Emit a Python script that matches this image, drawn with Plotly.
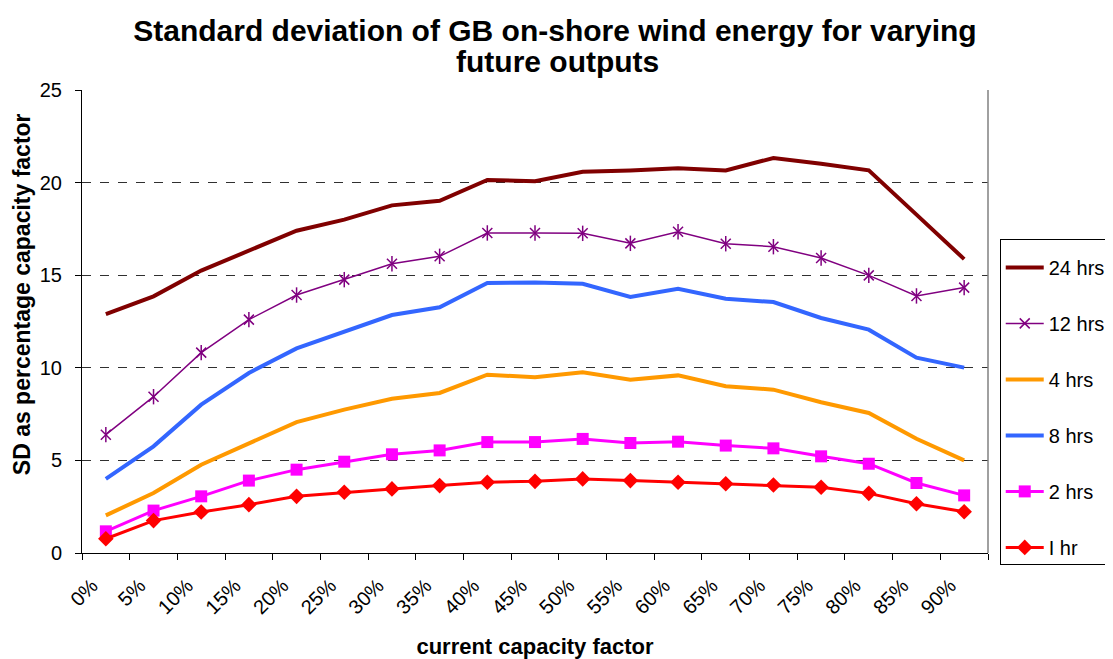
import plotly.graph_objects as go

cap_labels = ['0%', '5%', '10%', '15%', '20%', '25%', '30%', '35%', '40%', '45%',
              '50%', '55%', '60%', '65%', '70%', '75%', '80%', '85%', '90%']

sd_24hrs = [12.9, 13.86, 15.25, 16.34, 17.4, 18.0, 18.77, 19.02, 20.14, 20.07,
            20.59, 20.66, 20.77, 20.66, 21.33, 21.02, 20.66, 18.27, 15.87]
sd_12hrs = [6.39, 8.44, 10.82, 12.6, 13.93, 14.76, 15.62, 16.02, 17.28, 17.28,
            17.26, 16.72, 17.35, 16.7, 16.54, 15.93, 14.99, 13.88, 14.33]
sd_8hrs = [4.0, 5.76, 8.01, 9.72, 11.05, 11.95, 12.85, 13.27, 14.58, 14.6,
           14.54, 13.82, 14.27, 13.73, 13.55, 12.69, 12.06, 10.55, 10.01]
sd_4hrs = [2.03, 3.24, 4.77, 5.94, 7.07, 7.74, 8.33, 8.64, 9.63, 9.49,
           9.76, 9.36, 9.59, 9.0, 8.82, 8.14, 7.56, 6.17, 5.0]
sd_2hrs = [1.17, 2.29, 3.06, 3.91, 4.5, 4.93, 5.33, 5.54, 5.99, 5.99,
           6.16, 5.94, 6.01, 5.8, 5.65, 5.22, 4.82, 3.78, 3.11]
sd_1hr = [0.77, 1.75, 2.21, 2.61, 3.06, 3.28, 3.46, 3.64, 3.82, 3.87,
          4.0, 3.91, 3.82, 3.74, 3.67, 3.55, 3.22, 2.66, 2.23]

# points sit in the middle of each category slot
x_pos = [i + 0.5 for i in range(len(cap_labels))]

FONT = "Liberation Sans, Arial, sans-serif"

fig = go.Figure()

fig.add_trace(go.Scatter(x=x_pos, y=sd_24hrs, name="24 hrs", mode="lines",
                         line=dict(color="#800000", width=4), legendgroup="g0"))
fig.add_trace(go.Scatter(x=x_pos, y=sd_12hrs, name="12 hrs", mode="lines+markers",
                         line=dict(color="#800080", width=1.5), legendgroup="g1",
                         marker=dict(symbol="x-thin-open", size=10, color="#800080",
                                     line=dict(color="#800080", width=1.5))))
# vertical stroke of the excel-style star marker
fig.add_trace(go.Scatter(x=x_pos, y=sd_12hrs, name="12 hrs", mode="markers",
                         showlegend=False, legendgroup="g1", hoverinfo="skip",
                         marker=dict(symbol="line-ns-open", size=11, color="#800080",
                                     line=dict(color="#800080", width=1.5))))
fig.add_trace(go.Scatter(x=x_pos, y=sd_4hrs, name="4 hrs", mode="lines",
                         line=dict(color="#FF9900", width=4), legendgroup="g2"))
fig.add_trace(go.Scatter(x=x_pos, y=sd_8hrs, name="8 hrs", mode="lines",
                         line=dict(color="#3366FF", width=4), legendgroup="g3"))
fig.add_trace(go.Scatter(x=x_pos, y=sd_2hrs, name="2 hrs", mode="lines+markers",
                         line=dict(color="#FF00FF", width=3), legendgroup="g4",
                         marker=dict(symbol="square", size=12, color="#FF00FF")))
fig.add_trace(go.Scatter(x=x_pos, y=sd_1hr, name="I hr", mode="lines+markers",
                         line=dict(color="#FF0000", width=3), legendgroup="g5",
                         marker=dict(symbol="diamond", size=12, color="#FF0000")))

# page body has an 8px margin, so the figure is shrunk by that much
fig.update_layout(
    width=1105, height=651,
    paper_bgcolor="white", plot_bgcolor="white",
    font=dict(family=FONT, size=20, color="black"),
    margin=dict(l=74, r=125, t=82, b=106),
    title=dict(text="<b>Standard deviation of GB on-shore wind energy for varying</b>",
               x=0.495, xref="container", xanchor="center", y=0.966, yanchor="middle",
               font=dict(family=FONT, size=30, color="black")),
    legend=dict(x=0.8975, xref="container", xanchor="left",
                y=0.645, yref="container", yanchor="top",
                bordercolor="black", borderwidth=1, bgcolor="white",
                tracegroupgap=27, traceorder="grouped", itemwidth=38,
                title=dict(text=" ", font=dict(size=6)),
                font=dict(family=FONT, size=20)),
    showlegend=True,
)
fig.add_annotation(text="<b>future outputs</b>", xref="paper", yref="paper",
                   x=0.525, y=1.0605, xanchor="center", yanchor="middle", showarrow=False,
                   font=dict(family=FONT, size=30, color="black"))
# y axis title, placed by hand as it sits above the axis middle
fig.add_annotation(text="<b>SD as percentage capacity factor</b>", xref="paper", yref="paper",
                   x=-0.0662, y=0.559, xanchor="center", yanchor="middle", showarrow=False,
                   textangle=-90, font=dict(family=FONT, size=23, color="black"))

fig.update_xaxes(
    range=[0, 19], tickmode="array", tickvals=list(range(20)),
    ticktext=cap_labels + [""], tickangle=-45,
    ticklabelshift=10, ticklabelstandoff=6,
    showline=True, linecolor="black", linewidth=1,
    ticks="outside", ticklen=6, tickcolor="black",
    showgrid=False, zeroline=False, automargin=False,
    tickfont=dict(family=FONT, size=20),
    title=dict(text="<b>current capacity factor</b>", font=dict(family=FONT, size=22), standoff=22),
)
fig.update_yaxes(
    range=[0, 25], tickvals=[0, 5, 10, 15, 20, 25],
    ticklabelstandoff=9,
    showline=True, linecolor="black", linewidth=1,
    ticks="outside", ticklen=6, tickcolor="black",
    showgrid=True, gridcolor="#303030", griddash="dash", gridwidth=1,
    zeroline=False, automargin=False,
    tickfont=dict(family=FONT, size=20),
)

# right edge of the plot area
fig.add_shape(type="line", xref="paper", yref="paper", x0=1, x1=1, y0=0, y1=1,
              line=dict(color="#808080", width=1.5))

fig.write_html("out.html")
